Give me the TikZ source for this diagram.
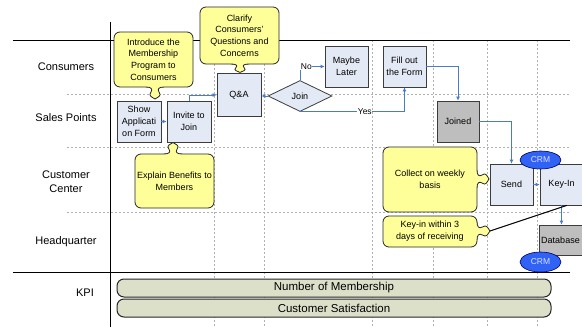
\documentclass[tikz,border=0pt]{standalone}
\usepackage{fontspec}
\setmainfont{Liberation Sans}
\usetikzlibrary{shapes.geometric,arrows.meta,calc}
\definecolor{boxfill}{HTML}{E4EAF5}
\definecolor{boxline}{HTML}{3C3C3C}
\definecolor{graybox}{HTML}{BEBEBE}
\definecolor{calfill}{HTML}{FFFF99}
\definecolor{flow}{HTML}{4A7CC6}
\definecolor{crmfill}{HTML}{2F62F5}
\definecolor{kpifill}{HTML}{DDE0C9}
\definecolor{gridc}{HTML}{B0B0B0}
\newcommand{\calltab}[4]{%
  \begin{scope}[shift={(#1,#2)}, rotate=#3, yscale=#4]
    \fill[calfill] (-9,-1.5) -- (-9,0) .. controls (-4,0) and (-2,2) .. (-4,5)
      .. controls (-7,9) and (-3,10) .. (0,12) .. controls (3,10) and (7,9) .. (4,5)
      .. controls (2,2) and (4,0) .. (9,0) -- (9,-1.5) -- cycle;
    \draw[black!85, line width=0.8pt] (-9,0) .. controls (-4,0) and (-2,2) .. (-4,5)
      .. controls (-7,9) and (-3,10) .. (0,12) .. controls (3,10) and (7,9) .. (4,5)
      .. controls (2,2) and (4,0) .. (9,0);
  \end{scope}}
\begin{document}
\begin{tikzpicture}[x=1pt,y=-1pt,
  every node/.style={font=\fontsize{9}{11.8}\selectfont, inner sep=0pt, text=black},
  procbox/.style={draw=boxline, line width=0.8pt, fill=boxfill, minimum width=44pt, minimum height=41pt, align=center},
  graybx/.style={procbox, fill=graybox},
  callout/.style={draw=black!85, line width=0.8pt, fill=calfill, rounded corners=6pt, align=center},
  kpibar/.style={draw=black!85, line width=1pt, fill=kpifill, rounded corners=7pt, minimum width=434pt, minimum height=18pt, font=\fontsize{11.5}{13}\selectfont},
  lane/.style={font=\fontsize{11}{14.5}\selectfont, align=center},
  crm/.style={ellipse, draw=black!60!blue, line width=0.6pt, fill=crmfill, minimum width=41pt, minimum height=18pt, text=white!88!blue, font=\fontsize{8.5}{9}\selectfont},
  flowarrow/.style={draw=flow, line width=1pt, -{Latex[length=4pt,width=4pt]}},
  gridline/.style={draw=gridc, line width=0.7pt, dash pattern=on 2pt off 2pt},
  frame/.style={draw=black, line width=1pt}
]
\useasboundingbox (0,0) rectangle (582,327);
\fill[white] (0,0) rectangle (582,327);

% grid
\foreach \yy in {94,147,212} \draw[gridline] (67,\yy) -- (570,\yy);
\foreach \xx in {214,264,372,433,487,537} \draw[gridline] (\xx,40) -- (\xx,327);
\draw[frame] (13,40) -- (570,40);
\draw[frame] (13,272.5) -- (570,272.5);
\draw[frame] (110,22) -- (110,327);

% lane labels
\node[lane] (l1) at (66,67) {Consumers};
\node[lane] (l2) at (66,118) {Sales Points};
\node[lane] (l3) at (66,181.5) {Customer\\Center};
\node[lane] (l4) at (66,242) {Headquarter};
\node[lane] (l5) at (85,293) {KPI};

% process boxes
\node[procbox] (showapp) at (139,121.5) {Show\\Applicati\\on Form};
\node[procbox] (invite) at (189,121.5) {Invite to\\Join};
\node[procbox, minimum height=43pt] (qa) at (239,95) {Q\&A};
\node[diamond, draw=boxline, line width=0.8pt, fill=boxfill, aspect=2, minimum width=64pt, minimum height=31pt] (join) at (300,96) {Join};
\node[procbox, minimum width=43pt] (maybe) at (346.5,66.5) {Maybe\\Later};
\node[procbox, minimum width=43pt] (fill) at (404.5,66.5) {Fill out\\the Form};
\node[graybx, minimum width=42pt] (joined) at (458,121.5) {Joined};
\node[procbox, minimum width=43pt] (send) at (511.5,184.5) {Send};
\node[procbox, minimum width=43pt] (keyin) at (561.5,184.5) {Key-In};
\node[graybx, minimum width=43pt, minimum height=30pt] (db) at (560.5,240) {Database};

% connectors
\draw[flowarrow] (showapp.east) -- (invite.west);
\draw[flowarrow] (invite.north) |- (qa.west);
\draw[flowarrow] (join.west) -- (join.west -| qa.east);
\draw[flowarrow] (join.north) |- node[pos=0.63, fill=white, inner sep=0.6pt, font=\fontsize{8.5}{10}\selectfont] {No} (maybe.west);
\draw[flowarrow] (join.south) -| node[pos=0.31, fill=white, inner sep=0.6pt, font=\fontsize{8.5}{10}\selectfont] {Yes} (fill.south);
\draw[flowarrow] (fill.east) -| (joined.north);
\draw[flowarrow] (joined.east) -| (send.north);
\draw[flowarrow] (send.east) -- (keyin.west);
\draw[flowarrow] (keyin.south) -- (keyin.south |- db.north);

% CRM
\node[crm] (crm1) at (540.5,160) {CRM};
\node[crm, minimum height=20pt] (crm2) at (540.5,262) {CRM};

% callouts
\node[callout, minimum width=79pt, minimum height=55pt] (intro) at (153.5,59.5) {Introduce the\\Membership\\Program to\\Consumers};
\calltab{155}{87}{0}{1}
\node[callout, minimum width=79pt, minimum height=57pt] (clarify) at (239.5,35.5) {Clarify\\Consumers’\\Questions and\\Concerns};
\calltab{240}{64}{0}{0.7}
\node[callout, minimum width=79pt, minimum height=54pt] (explain) at (174.5,181) {Explain Benefits to\\Members};
\calltab{173}{154}{180}{0.95}
\node[callout, minimum width=94pt, minimum height=65pt] (collect) at (430,179.5) {Collect on weekly\\basis};
\calltab{477}{179}{90}{1}
\node[callout, minimum width=94pt, minimum height=31pt] (keyin3) at (430,231.5) {Key-in within 3\\days of receiving};
\calltab{477}{231}{90}{1.08}
\coordinate (k3tip) at (490,231);
\draw[black, line width=1pt] (k3tip) -- ($(keyin.south west)!0.62!(keyin.south east)$);

% KPI bars
\node[kpibar] (kpi1) at (334,288) {Number of Membership};
\node[kpibar] (kpi2) at (334,308) {Customer Satisfaction};
\end{tikzpicture}
\end{document}
